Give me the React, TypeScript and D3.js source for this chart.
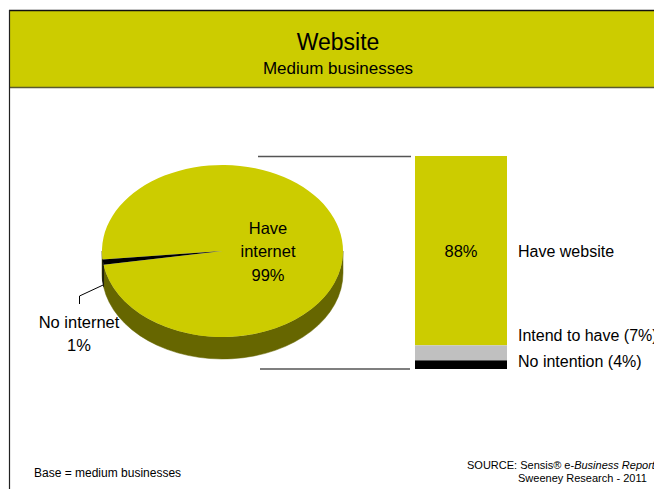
import React from "react";
import * as d3 from "d3";

const pieCategories = ["Have internet", "No internet"];
const pieValues = [99, 1];
const pieColors = ["#CCCC00", "#000000"];
const pieSideColors = ["#666600", "#000000"];

const barCategories = ["Have website", "Intend to have (7%)", "No intention (4%)"];
const barValues = [88, 7, 4];
const barColors = ["#CCCC00", "#C0C0C0", "#000000"];

const title = "Website";
const subtitle = "Medium businesses";
const footLeft = "Base = medium businesses";

const W = 654;
const H = 489;
const FONT = "'Liberation Sans', Arial, sans-serif";

const deg = Math.PI / 180;

export default function App() {
  // pie geometry
  const cx = 222.5, cy = 251, rx = 120.5, ry = 86, depth = 22;
  const pie = d3.pie<number>().sort(null).startAngle(-95.6 * deg).endAngle(264.4 * deg);
  const arcs = pie(pieValues);
  const pt = (a: number, dy = 0) => [cx + rx * Math.sin(a), cy - ry * Math.cos(a) + dy];

  const topPath = (a0: number, a1: number) => {
    const [x0, y0] = pt(a0);
    const [x1, y1] = pt(a1);
    const large = a1 - a0 > Math.PI ? 1 : 0;
    return `M${cx},${cy}L${x0},${y0}A${rx},${ry} 0 ${large} 1 ${x1},${y1}Z`;
  };
  const wallPaths = (a0: number, a1: number) => {
    const out: string[] = [];
    // visible front range: d3 angles 90..270 deg (mod 360)
    for (const k of [-1, 0, 1]) {
      const lo = Math.max(a0, 90 * deg + k * 2 * Math.PI);
      const hi = Math.min(a1, 270 * deg + k * 2 * Math.PI);
      if (hi > lo) {
        const [x0, y0] = pt(lo);
        const [x1, y1] = pt(hi);
        const large = hi - lo > Math.PI ? 1 : 0;
        out.push(
          `M${x0},${y0}A${rx},${ry} 0 ${large} 1 ${x1},${y1}L${x1},${y1 + depth}A${rx},${ry} 0 ${large} 0 ${x0},${y0 + depth}Z`
        );
      }
    }
    return out;
  };

  const noArc = arcs[1];
  const mid = (noArc.startAngle + noArc.endAngle) / 2;
  const [lx, ly] = pt(mid, depth + 1);

  // bar geometry
  const barX = 415, barW = 92, barTop = 156, barBottom = 369;
  const total = d3.sum(barValues);
  const y = d3.scaleLinear().domain([0, total]).range([barTop, barBottom]);
  const cum = d3.cumsum(barValues);
  const segs = barValues.map((v, i) => ({ v, y0: y(cum[i] - v), y1: y(cum[i]), c: barColors[i], name: barCategories[i] }));
  const labelYs = [257, 341, 366.5];

  return (
    <svg width={W} height={H} style={{ position: "absolute", left: 0, top: 0 }} fontFamily={FONT}>
      <rect x={0} y={0} width={W} height={H} fill="#fff" />
      {/* header band */}
      <rect x={9} y={10} width={W} height={77} fill="#CCCC00" />
      <line x1={9} y1={10.5} x2={W} y2={10.5} stroke="#111" strokeWidth={1.5} />
      <line x1={9} y1={87.5} x2={W} y2={87.5} stroke="#5a5a30" strokeWidth={1.5} />
      <line x1={9.5} y1={10} x2={9.5} y2={H} stroke="#222" strokeWidth={1.2} />
      <text x={338} y={49.5} textAnchor="middle" fontSize={23} fill="#000">{title}</text>
      <text x={338} y={73.5} textAnchor="middle" fontSize={17} fill="#000">{subtitle}</text>

      {/* connector lines */}
      <line x1={258} y1={156.5} x2={411} y2={156.5} stroke="#555" strokeWidth={1.5} />
      <line x1={260} y1={369} x2={410} y2={369} stroke="#555" strokeWidth={1.5} />

      {/* pie walls */}
      {arcs.map((a, i) =>
        wallPaths(a.startAngle, a.endAngle).map((d, j) => (
          <path key={`w${i}-${j}`} d={d} fill={pieSideColors[i]} stroke={pieSideColors[i]} strokeWidth={0.5} />
        ))
      )}
      {/* pie tops */}
      {arcs.map((a, i) => (
        <path key={`t${i}`} d={topPath(a.startAngle, a.endAngle)} fill={pieColors[i]} />
      ))}

      {/* pie labels */}
      <text x={268} y={234} textAnchor="middle" fontSize={16.5} fill="#000">Have</text>
      <text x={268} y={257} textAnchor="middle" fontSize={16.5} fill="#000">internet</text>
      <text x={268} y={281} textAnchor="middle" fontSize={16.5} fill="#000">{pieValues[0]}%</text>
      <polyline points={`${lx},${ly} 79.5,296 79.5,304`} fill="none" stroke="#000" strokeWidth={1} />
      <text x={79} y={328} textAnchor="middle" fontSize={16.5} fill="#000">{pieCategories[1]}</text>
      <text x={79} y={351} textAnchor="middle" fontSize={16.5} fill="#000">{pieValues[1]}%</text>

      {/* stacked bar */}
      {segs.map((s, i) => (
        <rect key={`b${i}`} x={barX} y={s.y0} width={barW} height={s.y1 - s.y0} fill={s.c} />
      ))}
      <text x={barX + barW / 2} y={257} textAnchor="middle" fontSize={16.5} fill="#000">{barValues[0]}%</text>
      {segs.map((s, i) => (
        <text key={`bl${i}`} x={518} y={labelYs[i]} fontSize={16} fill="#000">{s.name}</text>
      ))}

      {/* footer */}
      <text x={34} y={477} fontSize={12} fill="#000">{footLeft}</text>
      <text x={467} y={469} fontSize={11} fill="#000">
        SOURCE: Sensis® e-<tspan fontStyle="italic">Business Report</tspan>
      </text>
      <text x={518} y={482} fontSize={11} fill="#000">Sweeney Research - 2011</text>
    </svg>
  );
}
